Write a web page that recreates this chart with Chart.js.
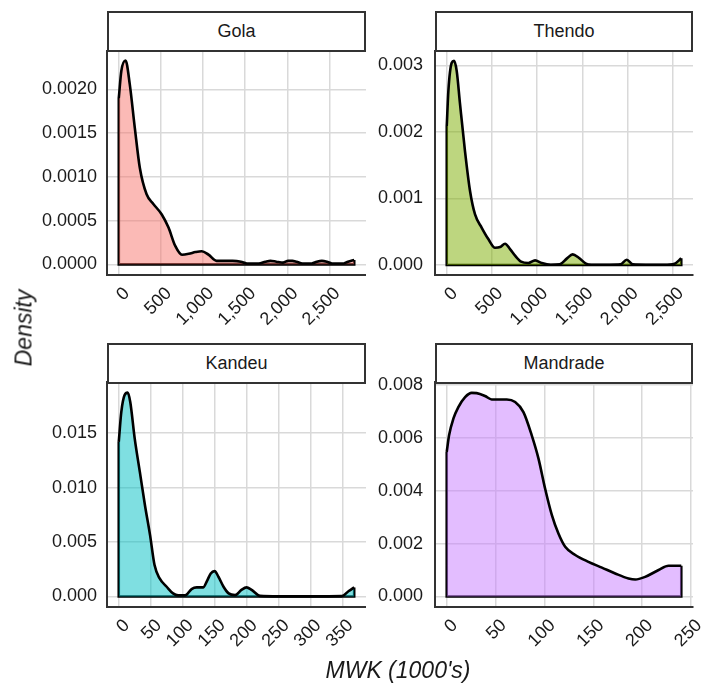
<!DOCTYPE html>
<html>
<head>
<meta charset="utf-8">
<script src="https://cdn.jsdelivr.net/npm/chart.js@4.4.1/dist/chart.umd.min.js"></script>
<style>
  body { margin: 0; background: #fff; }
  #wrap { position: relative; width: 701px; height: 686px; font-family: 'Liberation Sans', Arial, sans-serif; color: #1a1a1a; }
  canvas { position: absolute; }
  .strip { position: absolute; box-sizing: border-box; border: 2px solid #333; background: #fff;
           text-align: center; font-size: 18px; line-height: 37px; z-index: 2; }
  .title { position: absolute; font-style: italic; font-size: 23px; white-space: nowrap; }
</style>
</head>
<body>
<div id="wrap">
  <canvas id="c_gola" width="366" height="334" style="left:0px;top:11px"></canvas>
  <canvas id="c_thendo" width="335" height="334" style="left:366px;top:11px"></canvas>
  <canvas id="c_kandeu" width="366" height="334" style="left:0px;top:343px"></canvas>
  <canvas id="c_mandrade" width="335" height="334" style="left:366px;top:343px"></canvas>

  <div class="strip" style="left:107px;top:11px;width:259px;height:41px">Gola</div>
  <div class="strip" style="left:435px;top:11px;width:258px;height:41px">Thendo</div>
  <div class="strip" style="left:107px;top:343px;width:259px;height:41px">Kandeu</div>
  <div class="strip" style="left:435px;top:343px;width:258px;height:41px">Mandrade</div>

  <div class="title" style="left:24px;top:328px;transform:translate(-50%,-50%) rotate(-90deg)">Density</div>
  <div class="title" style="left:398px;top:670px;transform:translate(-50%,-50%)">MWK (1000's)</div>
</div>

<script>
// density curves (x in 1000's MWK)
const golaX = [0, 30, 80, 130, 190, 250, 330, 410, 510, 590, 670, 750, 830, 910, 985, 1065, 1160, 1250, 1350, 1450, 1520, 1660, 1740, 1800, 1870, 1950, 2010, 2060, 2110, 2180, 2290, 2350, 2410, 2470, 2530, 2670, 2720, 2794];
const golaY = [0.0019, 0.00221, 0.00233, 0.00206, 0.00156, 0.0011, 0.0008, 0.00069, 0.00057, 0.00042, 0.00021, 0.00011, 0.00012, 0.00014, 0.00015, 0.00011, 0.00004, 0.00004, 0.00004, 0.00003, 0.00001, 0.00001, 0.00003, 0.00004, 0.00003, 0.00002, 0.00004, 0.00004, 0.00003, 0.00001, 0.00001, 0.00003, 0.00004, 0.00003, 0.00001, 0.00001, 0.00003, 0.00005];

const thendoX = [0, 18, 55, 81, 110, 147, 202, 258, 313, 387, 460, 534, 590, 645, 700, 756, 822, 903, 977, 1051, 1150, 1250, 1330, 1393, 1460, 1540, 1600, 1800, 1920, 1991, 2060, 2200, 2400, 2520, 2594];
const thendoY = [0.00209, 0.00262, 0.00304, 0.00307, 0.00292, 0.00242, 0.00171, 0.00111, 0.00076, 0.00056, 0.00039, 0.00026, 0.00027, 0.00032, 0.00024, 0.00014, 0.00005, 0.00003, 0.00007, 0.00003, 0.000005, 0.00001, 0.0001, 0.00016, 0.00011, 0.00002, 0.000005, 0.000005, 0.00001, 0.00008, 0.00001, 0.000005, 0.000005, 0.00002, 0.0001];

const kandeuX = [0, 4, 9, 14, 18, 25, 33, 41, 49, 56, 64, 75, 85, 93, 104, 114, 122, 132, 138, 144, 150, 156, 164, 172, 182, 192, 200, 208, 221, 250, 300, 349, 360, 368.5];
const kandeuY = [0.0142, 0.01695, 0.01848, 0.01872, 0.01786, 0.0145, 0.01144, 0.00838, 0.00563, 0.00288, 0.00165, 0.00089, 0.00028, 0.0001, 0.0001, 0.00068, 0.00083, 0.00083, 0.00141, 0.00211, 0.00233, 0.00181, 0.00089, 0.00028, 0.00012, 0.0006, 0.00083, 0.0006, 0.00005, 0.00001, 0.00001, 0.00003, 0.0005, 0.00083];

const mandradeX = [0, 2.4, 6.8, 11.9, 18.8, 25.6, 30.7, 39.2, 46, 61.5, 70, 78.5, 87, 93.9, 100.7, 107.6, 114.3, 121.2, 131.5, 145, 158.8, 172.4, 186, 193, 203, 216.8, 227, 240];
const mandradeY = [0.00547, 0.0061, 0.00673, 0.00717, 0.00755, 0.00771, 0.0077, 0.00759, 0.00746, 0.00746, 0.00736, 0.00698, 0.0061, 0.00522, 0.00408, 0.00308, 0.00238, 0.00188, 0.00157, 0.00131, 0.00109, 0.00087, 0.00068, 0.00064, 0.00074, 0.001, 0.00116, 0.00116];

// tick values
const golaXTicks = [0, 500, 1000, 1500, 2000, 2500];
const golaYTicks = [0, 0.0005, 0.001, 0.0015, 0.002];
const thendoXTicks = [0, 500, 1000, 1500, 2000, 2500];
const thendoYTicks = [0, 0.001, 0.002, 0.003];
const kandeuXTicks = [0, 50, 100, 150, 200, 250, 300, 350];
const kandeuYTicks = [0, 0.005, 0.01, 0.015];
const mandradeXTicks = [0, 50, 100, 150, 200, 250];
const mandradeYTicks = [0, 0.002, 0.004, 0.006, 0.008];

const FONT = "'Liberation Sans', Arial, sans-serif";
const TEXT = '#1a1a1a';
const GRID = '#d9d9d9';
const AXIS = '#333';

const panels = [
  { id: 'c_gola', xs: golaX, ys: golaY, fill: 'rgba(248,118,109,0.5)', xr: [-140, 2934], yr: [-0.000122, 0.002438],
    xt: golaXTicks, yt: golaYTicks, dec: 4, yw: 107, pad: 10, top: 40, right: 0 },
  { id: 'c_thendo', xs: thendoX, ys: thendoY, fill: 'rgba(124,174,0,0.5)', xr: [-130, 2724], yr: [-0.00015, 0.003218],
    xt: thendoXTicks, yt: thendoYTicks, dec: 3, yw: 69, pad: 12, top: 40, right: 8 },
  { id: 'c_kandeu', xs: kandeuX, ys: kandeuY, fill: 'rgba(0,191,196,0.5)', xr: [-18.4, 387], yr: [-0.00097, 0.0197],
    xt: kandeuXTicks, yt: kandeuYTicks, dec: 3, yw: 107, pad: 10, top: 39, right: 0 },
  { id: 'c_mandrade', xs: mandradeX, ys: mandradeY, fill: 'rgba(199,124,255,0.5)', xr: [-12, 252], yr: [-0.0004, 0.00812],
    xt: mandradeXTicks, yt: mandradeYTicks, dec: 3, yw: 69, pad: 12, top: 39, right: 8 }
];

panels.forEach(p => {
  const n = p.xs.length;
  const curve = p.xs.map((x, i) => ({ x: x, y: p.ys[i] }));
  // vertical ends + baseline of the density polygon
  const edges = [
    { x: p.xs[0], y: p.ys[0] }, { x: p.xs[0], y: 0 },
    { x: p.xs[n - 1], y: 0 }, { x: p.xs[n - 1], y: p.ys[n - 1] }
  ];

  new Chart(document.getElementById(p.id), {
    type: 'line',
    data: {
      datasets: [
        { data: curve, fill: 'origin', backgroundColor: p.fill, borderColor: '#000', borderWidth: 2.6,
          borderJoinStyle: 'round', cubicInterpolationMode: 'monotone', pointRadius: 0 },
        { data: edges, fill: false, borderColor: '#000', borderWidth: 2.6, tension: 0, pointRadius: 0 }
      ]
    },
    options: {
      responsive: false,
      animation: false,
      layout: { padding: { top: p.top, left: 0, right: p.right, bottom: 0 } },
      plugins: { legend: { display: false }, tooltip: { enabled: false } },
      scales: {
        x: {
          type: 'linear', min: p.xr[0], max: p.xr[1],
          afterBuildTicks: s => { s.ticks = p.xt.map(v => ({ value: v })); },
          afterFit: s => { s.height = 70; s.paddingLeft = 0; s.paddingRight = 0; },
          grid: { color: GRID, lineWidth: 1.5, drawTicks: false },
          border: { display: true, color: AXIS, width: 2 },
          ticks: { autoSkip: false, minRotation: 45, maxRotation: 45, padding: 8, labelOffset: 8, color: TEXT,
                   font: { family: FONT, size: 18 },
                   callback: v => v.toLocaleString('en-US') }
        },
        y: {
          type: 'linear', min: p.yr[0], max: p.yr[1],
          afterBuildTicks: s => { s.ticks = p.yt.map(v => ({ value: v })); },
          afterFit: s => { s.width = p.yw; s.paddingTop = 0; s.paddingBottom = 0; },
          grid: { color: GRID, lineWidth: 1.5, drawTicks: false },
          border: { display: true, color: AXIS, width: 2 },
          ticks: { autoSkip: false, padding: p.pad, color: TEXT,
                   font: { family: FONT, size: 18 },
                   callback: v => v.toFixed(p.dec) }
        }
      }
    }
  });
});
</script>
</body>
</html>
